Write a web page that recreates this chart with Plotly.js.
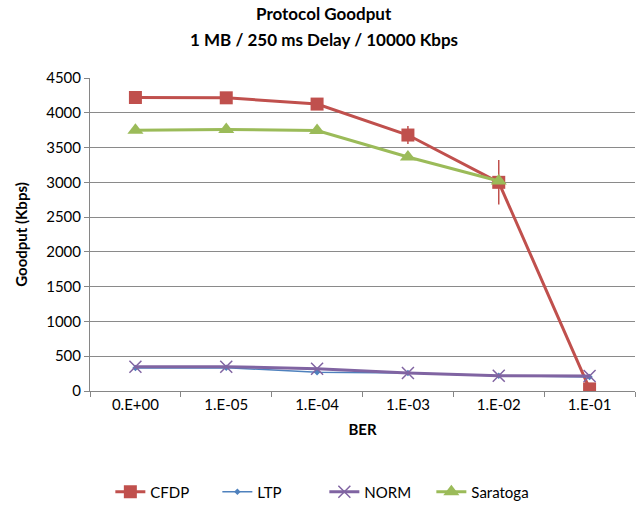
<!DOCTYPE html>
<html><head><meta charset="utf-8">
<script src="https://cdn.plot.ly/plotly-3.0.1.min.js"></script>
<style>body{margin:0;background:#fff}#c{width:644px;height:507px}</style>
</head><body><div id="c"></div>
<script>
const categories = ["0.E+00","1.E-05","1.E-04","1.E-03","1.E-02","1.E-01"];
const cfdp = [4220, 4215, 4125, 3680, 3000, 30];
const cfdpErr = [0, 0, 0, 130, 320, 0];
const ltp = [330, 335, 270, 260, 220, 200];
const norm = [350, 350, 320, 260, 220, 215];
const saratoga = [3750, 3760, 3745, 3365, 3020];
const saratogaErr = [0, 0, 0, 40, 0];

const F = "Lato, 'Open Sans', sans-serif";
const traces = [
  {name:"CFDP", x:categories, y:cfdp, type:"scatter", mode:"lines+markers",
   line:{color:"#C0504D", width:3}, marker:{symbol:"square", size:13, color:"#C0504D"},
   error_y:{type:"data", array:cfdpErr, visible:true, color:"#C0504D", thickness:1.5, width:0}},
  {name:"LTP", x:categories, y:ltp, type:"scatter", mode:"lines+markers",
   line:{color:"#4F81BD", width:1.5}, marker:{symbol:"diamond", size:5, color:"#4F81BD"}},
  {name:"NORM", x:categories, y:norm, type:"scatter", mode:"lines+markers",
   line:{color:"#8064A2", width:3}, marker:{symbol:"x-thin-open", size:12, line:{color:"#8064A2", width:1.5}}},
  {name:"Saratoga", x:categories.slice(0,5), y:saratoga, type:"scatter", mode:"lines+markers",
   line:{color:"#9BBB59", width:3}, marker:{symbol:"triangle-up", size:14, color:"#9BBB59"},
   error_y:{type:"data", array:saratogaErr, visible:true, color:"#9BBB59", thickness:1.5, width:0}}
];
const layout = {
  width:644, height:507,
  margin:{l:90, r:9, t:78, b:116},
  paper_bgcolor:"#fff", plot_bgcolor:"#fff",
  font:{family:F, size:15, color:"#000"},
  annotations:[
    {text:"<b>Protocol Goodput</b>", xref:"paper", yref:"paper", x:0.43, xanchor:"center", y:(391-13)/313, yanchor:"middle", showarrow:false, font:{family:F, size:17, color:"#000"}},
    {text:"<b>1 MB / 250 ms Delay / 10000 Kbps</b>", xref:"paper", yref:"paper", x:0.43, xanchor:"center", y:(391-40)/313, yanchor:"middle", showarrow:false, font:{family:F, size:17, color:"#000"}}
  ],
  xaxis:{type:"category", range:[-0.5, 5.5], tickson:"boundaries", ticks:"outside", ticklen:5, tickcolor:"#868686",
    showline:true, linecolor:"#868686", showgrid:false, zeroline:false, automargin:false,
    title:{text:"<b>BER</b>", font:{family:F, size:15}, standoff:12}, tickfont:{family:F, size:15}},
  yaxis:{range:[0,4500], dtick:500, ticks:"outside", ticklen:5, tickcolor:"#868686",
    showline:true, linecolor:"#868686", gridcolor:"#8a8a8a", gridwidth:1, zeroline:false, automargin:false,
    title:{text:"<b>Goodput (Kbps)</b>", font:{family:F, size:15}, standoff:14}, tickfont:{family:F, size:15}},
  legend:{orientation:"h", yref:"container", x:0.43, xanchor:"center", y:15/507, yanchor:"middle",
    entrywidth:62, entrywidthmode:"pixels", font:{family:F, size:15}},
  showlegend:true
};
Plotly.newPlot("c", traces, layout, {displayModeBar:false, staticPlot:true});
</script></body></html>
